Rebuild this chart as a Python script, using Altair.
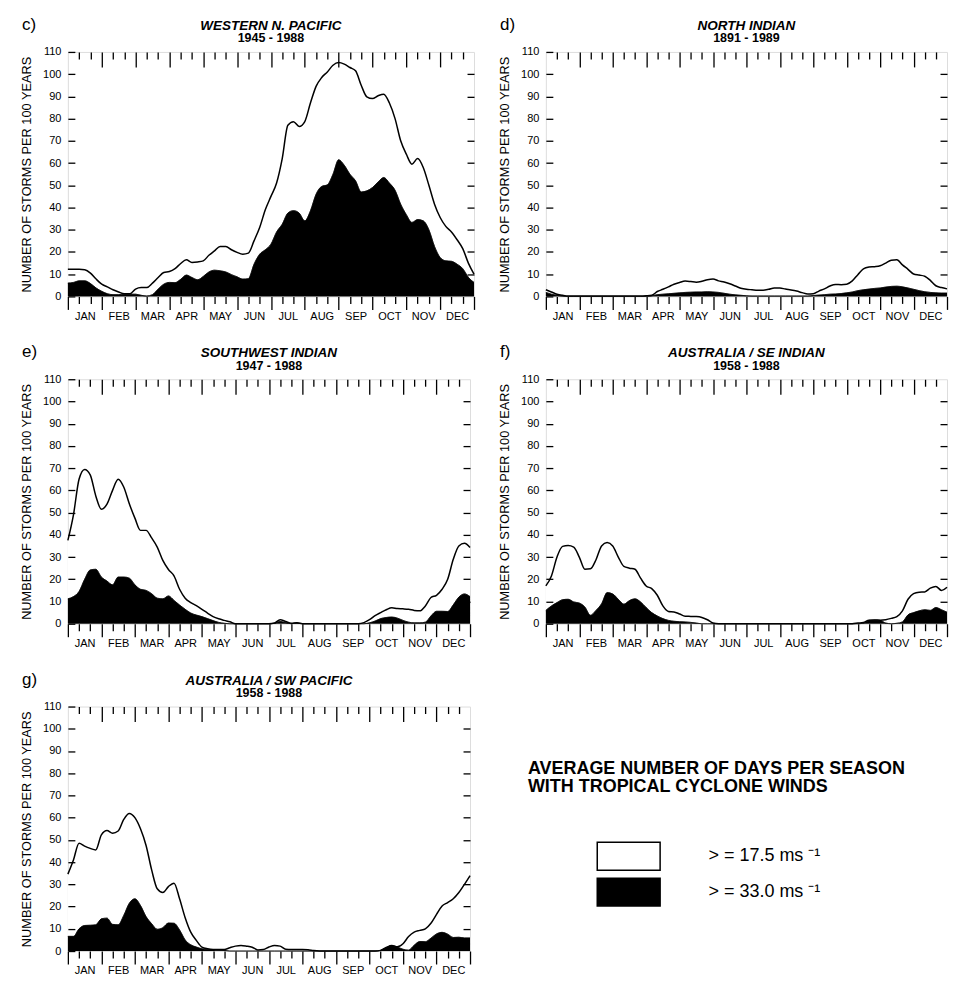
import altair as alt
import pandas as pd

FONT = "Liberation Sans"
MONTHS = ["JAN", "FEB", "MAR", "APR", "MAY", "JUN", "JUL", "AUG", "SEP", "OCT", "NOV", "DEC"]
SAMPLES_PER_MONTH = 6
Y_TICKS = [0, 10, 20, 30, 40, 50, 60, 70, 80, 90, 100, 110]
Y_TITLE = "NUMBER OF STORMS PER 100 YEARS"
SERIES = ["> = 17.5 ms  \u207b\u00b9", "> = 33.0 ms  \u207b\u00b9"]
SERIES_FILL = ["white", "black"]
LEGEND_TITLE = ["AVERAGE NUMBER OF DAYS PER SEASON", "WITH TROPICAL CYCLONE WINDS"]

TAGS = ["c)", "d)", "e)", "f)", "g)"]
REGIONS = ["WESTERN N. PACIFIC", "NORTH INDIAN", "SOUTHWEST INDIAN",
           "AUSTRALIA / SE INDIAN", "AUSTRALIA / SW PACIFIC"]
PERIODS = ["1945 - 1988", "1891 - 1989", "1947 - 1988", "1958 - 1988", "1958 - 1988"]

# values every 1/6 month, Jan 1 .. Dec 31 (one row per month + year end)
WNP_WEAK = [
    12.2, 12.2, 12.2, 12.0, 10.5, 7.8,
    5.5, 4.3, 3.0, 2.0, 1.2, 1.2,
    3.3, 4.0, 4.0, 6.0, 8.5, 10.8,
    11.2, 12.5, 14.8, 16.5, 15.3, 15.5,
    16.0, 18.5, 20.5, 22.5, 22.5, 21.0,
    19.8, 19.0, 19.5, 25.0, 31.0, 39.0,
    45.0, 51.0, 62.0, 77.0, 78.6, 76.5,
    78.7, 87.0, 94.5, 98.5, 101.0, 104.0,
    105.2, 104.5, 103.0, 101.5, 95.0, 89.8,
    89.0, 90.3, 91.0, 87.0, 80.0, 70.0,
    64.0, 59.5, 62.0, 58.0, 50.0, 41.5,
    35.5, 31.5, 29.0, 25.5, 21.5, 15.0,
    10.0]
WNP_STRONG = [
    6.0, 6.3, 7.0, 7.0, 5.8, 3.8,
    2.3, 1.2, 0.8, 0.8, 1.0, 1.0,
    1.0, 0.5, 0.2, 0.8, 3.3, 5.5,
    6.3, 6.2, 7.7, 9.6, 8.5, 7.5,
    9.0, 11.0, 11.8, 11.5, 11.0, 9.8,
    8.8, 7.8, 8.0, 14.5, 19.0, 21.0,
    23.5, 29.0, 32.5, 37.5, 38.6, 37.5,
    34.0, 38.5, 46.0, 49.5, 50.2, 55.0,
    61.5, 59.0, 55.0, 52.0, 47.0, 47.5,
    49.0, 51.5, 53.5, 51.0, 47.8, 41.5,
    36.8, 33.3, 34.6, 34.0, 30.0, 22.5,
    17.5, 16.0, 15.8, 14.5, 12.5, 8.6,
    6.3]

NIO_WEAK = [
    3.0, 2.0, 1.0, 0.5, 0.2, 0.2,
    0.2, 0.2, 0.2, 0.2, 0.2, 0.2,
    0.2, 0.2, 0.2, 0.2, 0.2, 0.2,
    0.3, 0.5, 2.2, 3.2, 4.3, 5.5,
    6.3, 6.9, 6.7, 6.4, 6.8, 7.5,
    7.8, 7.0, 6.5, 5.7, 4.7, 3.7,
    3.2, 3.0, 2.8, 2.8, 3.2, 3.8,
    3.8, 3.3, 2.9, 2.4, 1.7, 1.1,
    1.2, 2.4, 3.4, 4.7, 5.4, 5.3,
    5.5, 7.0, 9.8, 12.4, 13.2, 13.4,
    13.8, 15.0, 16.3, 16.5, 14.2, 12.2,
    10.1, 9.6, 9.1, 7.2, 4.8, 4.0,
    3.4]
NIO_STRONG = [
    1.8, 1.0, 0.5, 0.2, 0.0, 0.0,
    0.0, 0.0, 0.0, 0.0, 0.0, 0.0,
    0.0, 0.0, 0.0, 0.0, 0.0, 0.0,
    0.0, 0.3, 0.8, 1.0, 1.2, 1.4,
    1.6, 1.8, 1.9, 2.0, 2.0, 2.1,
    2.0, 1.8, 1.4, 1.0, 0.7, 0.5,
    0.3, 0.2, 0.2, 0.2, 0.2, 0.2,
    0.2, 0.2, 0.2, 0.2, 0.2, 0.2,
    0.4, 0.6, 0.8, 1.0, 1.1, 1.3,
    1.6, 2.0, 2.6, 3.0, 3.3, 3.6,
    3.8, 4.2, 4.5, 4.6, 4.3, 3.8,
    3.2, 2.6, 2.1, 1.8, 1.6, 1.5,
    1.5]

SWI_WEAK = [
    37.5, 49.0, 65.0, 69.4, 67.0, 57.5,
    51.5, 53.8, 60.0, 65.0, 61.5, 54.0,
    47.5, 42.0, 42.0, 38.6, 34.5, 28.5,
    24.4, 21.5, 15.5, 11.5, 9.5, 8.1,
    6.5, 4.8, 3.2, 2.2, 1.5, 0.9,
    0.0, 0.0, 0.0, 0.0, 0.0, 0.0,
    0.0, 0.3, 1.8, 1.0, 0.2, 0.4,
    0.0, 0.0, 0.0, 0.0, 0.0, 0.0,
    0.0, 0.0, 0.0, 0.0, 0.0, 0.5,
    1.8, 3.6, 5.0, 6.3, 7.2, 6.8,
    6.7, 6.5, 6.0, 5.8, 8.0, 11.8,
    12.8, 15.5, 20.0, 29.0, 35.0, 36.2,
    34.3]
SWI_STRONG = [
    11.2, 12.2, 14.5, 20.0, 24.2, 24.5,
    21.0, 19.2, 17.5, 21.0, 21.0, 20.5,
    17.5, 15.5, 15.0, 13.5, 11.5, 11.2,
    12.5, 10.5, 8.4, 6.5, 4.8, 3.9,
    3.2, 2.3, 1.4, 0.6, 0.2, 0.0,
    0.0, 0.0, 0.0, 0.0, 0.0, 0.0,
    0.0, 0.2, 1.0, 0.5, 0.0, 0.4,
    0.0, 0.0, 0.0, 0.0, 0.0, 0.0,
    0.0, 0.0, 0.0, 0.0, 0.0, 0.0,
    0.4, 1.2, 2.3, 2.8, 3.0, 2.5,
    1.5, 0.7, 0.4, 0.4, 0.7, 3.5,
    5.6, 5.6, 5.5, 8.5, 12.0, 13.4,
    12.2]

SEI_WEAK = [
    17.0, 21.5, 30.0, 34.8, 35.2, 34.5,
    30.0, 24.5, 24.7, 28.8, 35.0, 36.5,
    35.0, 30.0, 25.8, 25.0, 24.5, 20.5,
    17.0, 15.8, 12.8, 8.0, 5.5, 5.3,
    4.4, 3.4, 3.3, 3.2, 2.8, 1.8,
    0.3, 0.0, 0.0, 0.0, 0.0, 0.0,
    0.0, 0.0, 0.0, 0.0, 0.0, 0.0,
    0.0, 0.0, 0.0, 0.0, 0.0, 0.0,
    0.0, 0.0, 0.0, 0.0, 0.0, 0.0,
    0.0, 0.0, 0.3, 0.6, 1.6, 1.7,
    1.6, 1.8, 2.4, 3.2, 5.8, 11.0,
    13.5, 14.2, 14.3, 16.0, 16.8, 15.0,
    16.4]
SEI_STRONG = [
    6.0, 8.0, 9.5, 10.8, 11.0, 9.8,
    9.3, 7.5, 3.8, 6.0, 9.0, 14.0,
    13.4, 11.0, 8.8, 10.4, 11.2, 9.8,
    7.3, 5.0, 3.5, 2.3, 1.5, 1.1,
    0.9, 0.8, 0.6, 0.3, 0.0, 0.0,
    0.0, 0.0, 0.0, 0.0, 0.0, 0.0,
    0.0, 0.0, 0.0, 0.0, 0.0, 0.0,
    0.0, 0.0, 0.0, 0.0, 0.0, 0.0,
    0.0, 0.0, 0.0, 0.0, 0.0, 0.0,
    0.0, 0.0, 0.0, 0.3, 1.5, 1.6,
    1.5, 0.3, 0.0, 0.2, 0.8, 4.0,
    5.0, 5.8, 6.3, 6.0, 7.3, 6.3,
    5.2]

SWP_WEAK = [
    34.6, 41.0, 48.5, 47.2, 46.2, 45.5,
    52.3, 54.2, 53.0, 54.0, 59.2, 61.9,
    60.0, 55.0, 47.5, 36.5, 28.0, 26.3,
    29.0, 30.5, 23.5, 15.0, 8.5, 4.8,
    1.8, 1.0, 0.7, 0.7, 0.7, 1.5,
    2.2, 2.5, 2.2, 1.7, 0.5, 0.7,
    1.8, 2.5, 2.2, 0.8, 0.7, 0.7,
    0.7, 0.6, 0.2, 0.0, 0.0, 0.0,
    0.0, 0.0, 0.0, 0.0, 0.0, 0.0,
    0.0, 0.0, 0.3, 1.6, 2.5, 1.9,
    3.3, 6.5, 8.5, 9.3, 10.0, 12.5,
    16.5, 20.3, 21.8, 23.5, 26.3, 30.0,
    33.9]
SWP_STRONG = [
    6.6, 6.6, 10.0, 11.5, 11.6, 11.8,
    14.5, 14.8, 12.0, 11.8, 16.0, 21.5,
    23.5, 20.5, 15.5, 12.3, 9.8, 10.5,
    12.6, 12.5, 9.5, 5.0, 2.8, 1.8,
    1.0, 0.7, 0.5, 0.4, 0.3, 0.0,
    0.0, 0.0, 0.0, 0.0, 0.0, 0.0,
    0.0, 0.0, 0.0, 0.0, 0.0, 0.0,
    0.0, 0.0, 0.0, 0.0, 0.0, 0.0,
    0.0, 0.0, 0.0, 0.0, 0.0, 0.0,
    0.0, 0.0, 0.3, 1.5, 2.4, 1.8,
    0.8, 0.4, 2.6, 4.3, 4.2, 5.8,
    7.7, 8.4, 7.6, 6.1, 6.2, 5.9,
    5.9]

WEAK = [WNP_WEAK, NIO_WEAK, SWI_WEAK, SEI_WEAK, SWP_WEAK]
STRONG = [WNP_STRONG, NIO_STRONG, SWI_STRONG, SEI_STRONG, SWP_STRONG]
WIDTHS = [407, 402, 403, 402, 403]
HEIGHTS = [245, 245, 245, 245, 245]

MONTH_STARTS = list(range(12))
MONTH_INNER = [m + j / 3 for m in range(12) for j in (1, 2)]
LABEL_EXPR = "[" + ",".join("'%s'" % m for m in MONTHS) + "][datum.value]"

fill_scale = alt.Scale(domain=SERIES, range=SERIES_FILL)
legend = alt.Legend(
    orient="none", legendX=461, legendY=710,
    title=LEGEND_TITLE, titleFont=FONT, titleFontSize=18, titleFontWeight="bold",
    titleColor="black", titleLineHeight=18, titlePadding=45, titleLimit=600,
    titleAnchor="start",
    symbolType="M-2.25,-1H2.25V1H-2.25Z", symbolSize=784,
    symbolStrokeColor="black", symbolStrokeWidth=1.5, symbolOffset=86,
    labelFont=FONT, labelFontSize=18, labelColor="black", labelOffset=65,
    labelLimit=400, rowPadding=2,
)

tick_common = dict(domain=False, grid=False, title=None, tickColor="black",
                   tickWidth=1.3, zindex=1)


def panel(i):
    w, h = WIDTHS[i], HEIGHTS[i]
    n = len(WEAK[i])
    df = pd.DataFrame({
        "month": [k / SAMPLES_PER_MONTH for k in range(n)],
        "weak": WEAK[i],
        "strong": STRONG[i],
        "weak_series": [SERIES[0]] * n,
        "strong_series": [SERIES[1]] * n,
    })
    xs = alt.Scale(domain=[0, 12], nice=False, zero=False)
    ys = alt.Scale(domain=[0, 110], nice=False)

    bottom_major = alt.Axis(orient="bottom", values=MONTH_STARTS, tickSize=13,
                            labelExpr=LABEL_EXPR, labelOffset=w / 24, labelPadding=1,
                            labelFlush=False, labelOverlap=False, labelBound=False,
                            labelFont=FONT, labelFontSize=11, labelColor="black",
                            **tick_common)
    bottom_end = alt.Axis(orient="bottom", values=[12], tickSize=13,
                          labels=False, **tick_common)
    bottom_minor = alt.Axis(orient="bottom", values=MONTH_INNER, tickSize=7,
                            labels=False, **tick_common)
    top_major = alt.Axis(orient="top", values=MONTH_STARTS[1:], tickSize=15,
                         offset=-15, labels=False, **tick_common)
    top_minor = alt.Axis(orient="top", values=MONTH_INNER, tickSize=7,
                         offset=-7, labels=False, **tick_common)
    left = alt.Axis(orient="left", values=Y_TICKS, tickSize=7, offset=-7,
                    labelPadding=7, labelFont=FONT, labelFontSize=11,
                    labelColor="black", domain=False, grid=False,
                    tickColor="black", tickWidth=1.3, zindex=1,
                    title=Y_TITLE, titleFont=FONT, titleFontSize=12.8,
                    titleFontWeight="normal", titleColor="black", titlePadding=9)
    right = alt.Axis(orient="right", values=Y_TICKS[1:-1], tickSize=7, offset=-7,
                     labels=False, **tick_common)

    base = alt.Chart(df)
    weak_area = base.mark_area(interpolate="monotone", opacity=1).encode(
        x=alt.X("month:Q", scale=xs, axis=bottom_major),
        y=alt.Y("weak:Q", scale=ys, axis=left),
        fill=alt.Fill("weak_series:N", scale=fill_scale, legend=legend),
    )
    strong_area = base.mark_area(interpolate="monotone", opacity=1).encode(
        x=alt.X("month:Q", scale=xs, axis=bottom_minor),
        y=alt.Y("strong:Q", scale=ys, axis=right),
        fill=alt.Fill("strong_series:N", scale=fill_scale, legend=legend),
    )
    weak_line = base.mark_line(interpolate="monotone", color="black",
                               strokeWidth=1.5).encode(
        x=alt.X("month:Q", scale=xs, axis=top_major),
        y=alt.Y("weak:Q", scale=ys, axis=None),
    )
    strong_line = base.mark_line(interpolate="monotone", color="black",
                                 strokeWidth=0.6).encode(
        x=alt.X("month:Q", scale=xs, axis=top_minor),
        y=alt.Y("strong:Q", scale=ys, axis=None),
    )
    strong_edge = base.mark_line(interpolate="monotone", color="black",
                                 strokeWidth=0.6).encode(
        x=alt.X("month:Q", scale=xs, axis=bottom_end),
        y=alt.Y("strong:Q", scale=ys, axis=None),
    )
    tag = alt.Chart(pd.DataFrame({"tag": [TAGS[i]]})).mark_text(
        align="left", baseline="middle", font=FONT, fontSize=17, color="black"
    ).encode(text="tag:N", x=alt.value(-46), y=alt.value(-27))

    return alt.layer(
        weak_area, strong_area, weak_line, strong_line, strong_edge, tag
    ).resolve_axis(x="independent", y="independent").properties(
        width=w, height=h,
        title=alt.TitleParams(
            text=REGIONS[i], subtitle=PERIODS[i], anchor="middle",
            font=FONT, fontSize=13.5, fontStyle="italic", fontWeight="bold", color="black",
            subtitleFont=FONT, subtitleFontSize=12.5, subtitleFontWeight="bold",
            subtitleColor="black", subtitlePadding=0, offset=-29,
        ),
    )


chart = alt.concat(
    *[panel(i) for i in range(5)],
    columns=2, spacing={"row": 83, "column": 72}, bounds="flush",
).properties(
    padding={"left": 12, "top": 6, "right": 0, "bottom": 0},
).configure_view(stroke="black", strokeWidth=1.5).configure(font=FONT)

chart.save("out.html", embed_options={"renderer": "svg", "actions": False})
